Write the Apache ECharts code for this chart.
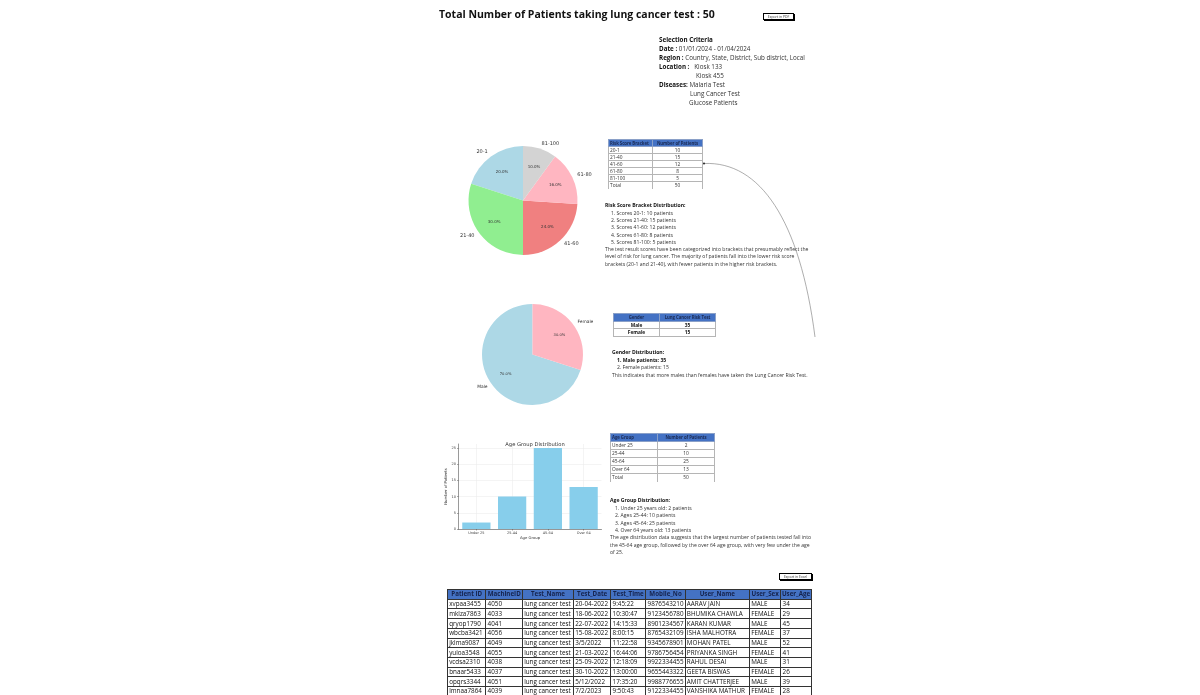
<!DOCTYPE html>
<html><head><meta charset="utf-8">
<script src="https://cdn.jsdelivr.net/npm/echarts@6/dist/echarts.min.js"></script>
<style>
html,body{margin:0;padding:0;background:#fff;width:1200px;height:695px;overflow:hidden;font-family:"Open Sans",sans-serif;color:#333;}
#chart{position:absolute;left:0;top:0;width:1200px;height:695px;}
.abs{position:absolute;white-space:nowrap;}
.title{left:439px;top:5px;font-size:10.5px;line-height:18px;font-weight:700;color:#111;}
.btn{position:absolute;border:1px solid #000;box-shadow:1px 1px 0 #000;font-size:3.4px;line-height:5px;text-align:center;color:#333;background:#fff;box-sizing:border-box;}
.crit{left:659px;top:34.5px;font-size:6.25px;line-height:9px;}
.crit b, .txt b{color:#111;}
.txt{font-size:5.1px;}
.txt .li{padding-left:6px;}
table{border-collapse:collapse;position:absolute;table-layout:fixed;}
table.small td{border:1px solid #b5b5b5;font-size:4.8px;padding:0 1px;overflow:hidden;white-space:nowrap;color:#333;line-height:5px;}
table.small tr.hd td{background:#4472C4;color:#1b2b55;font-weight:700;border-color:#8aa0c8;font-size:4.3px;letter-spacing:-0.05px;}
table.big td{border:1px solid #333;font-size:6.3px;padding:0 1.2px;overflow:hidden;white-space:nowrap;color:#111;line-height:8px;}
table.big tr.hd td{background:#4472C4;color:#15234d;font-weight:700;text-align:center;font-size:6.2px;padding:0;}
</style></head>
<body>
<div id="chart"></div>
<div id="overlay"></div>
<script>
// ---------- data ----------
const riskBrackets = ['20-1', '21-40', '41-60', '61-80', '81-100'];
const riskCounts = [10, 15, 12, 8, 5];
const riskColors = ['#ADD8E6', '#90EE90', '#F08080', '#FFB6C1', '#D3D3D3'];
const genders = ['Male', 'Female'];
const genderCounts = [35, 15];
const genderColors = ['#ADD8E6', '#FFB6C1'];
const ageGroups = ['Under 25', '25-44', '45-64', 'Over 64'];
const ageCounts = [2, 10, 25, 13];
const ageTicks = [0, 5, 10, 15, 20, 25];
const ageListLabels = ['Under 25 years old', 'Ages 25-44', 'Ages 45-64', 'Over 64 years old'];
const patientColumns = ['Patient ID', 'MachineID', 'Test_Name', 'Test_Date', 'Test_Time', 'Mobile_No', 'User_Name', 'User_Sex', 'User_Age'];
const patientRows = [
  ['xvpaa3455', '4050', 'lung cancer test', '20-04-2022', '9:45:22', '9876543210', 'AARAV JAIN', 'MALE', '34'],
  ['mklza7863', '4033', 'lung cancer test', '18-06-2022', '10:30:47', '9123456780', 'BHUMIKA CHAWLA', 'FEMALE', '29'],
  ['qryop1790', '4041', 'lung cancer test', '22-07-2022', '14:15:33', '8901234567', 'KARAN KUMAR', 'MALE', '45'],
  ['wbcba3421', '4056', 'lung cancer test', '15-08-2022', '8:00:15', '8765432109', 'ISHA MALHOTRA', 'FEMALE', '37'],
  ['jklma9087', '4049', 'lung cancer test', '3/5/2022', '11:22:58', '9345678901', 'MOHAN PATEL', 'MALE', '52'],
  ['yuioa3548', '4055', 'lung cancer test', '21-03-2022', '16:44:06', '9786756454', 'PRIYANKA SINGH', 'FEMALE', '41'],
  ['vcdsa2310', '4038', 'lung cancer test', '25-09-2022', '12:18:09', '9922334455', 'RAHUL DESAI', 'MALE', '31'],
  ['bnaar5433', '4037', 'lung cancer test', '30-10-2022', '13:00:00', '9655443322', 'GEETA BISWAS', 'FEMALE', '26'],
  ['opqrs3344', '4051', 'lung cancer test', '5/12/2022', '17:35:20', '9988776655', 'AMIT CHATTERJEE', 'MALE', '39'],
  ['lmnaa7864', '4039', 'lung cancer test', '7/2/2023', '9:50:43', '9122334455', 'VANSHIKA MATHUR', 'FEMALE', '28']
];
const totalPatients = riskCounts.reduce((a, b) => a + b, 0);

// ---------- HTML parts ----------
const ov = document.getElementById('overlay');
function add(html) { ov.insertAdjacentHTML('beforeend', html); }

add(`<div class="abs title">Total Number of Patients taking lung cancer test : ${totalPatients}</div>`);
add(`<div class="btn" style="left:763px;top:13px;width:31px;height:7px;">Export in PDF</div>`);
add(`<div class="abs crit">
<b>Selection Criteria</b><br>
<b>Date :</b> 01/01/2024 - 01/04/2024<br>
<b>Region :</b> Country, State, District, Sub district, Local<br>
<b>Location :</b>&nbsp;&nbsp; Kiosk 133<br>
<span style="padding-left:37px">Kiosk 455</span><br>
<b>Diseases:</b> Malaria Test<br>
<span style="padding-left:31px">Lung Cancer Test</span><br>
<span style="padding-left:30px">Glucose Patients</span>
</div>`);

function smallTable(left, top, widths, rowH, header, rows, opts) {
  let h = `<table class="small" style="left:${left}px;top:${top}px;width:${widths.reduce((a,b)=>a+b,0)}px">`;
  h += `<colgroup>${widths.map(w => `<col style="width:${w}px">`).join('')}</colgroup>`;
  h += `<tr class="hd" style="height:${rowH}px">${header.map((c, i) => `<td style="text-align:${opts.hAlign[i]}">${c}</td>`).join('')}</tr>`;
  rows.forEach((r, ri) => {
    const last = ri === rows.length - 1 && opts.openLast;
    h += `<tr style="height:${rowH}px">${r.map((c, i) => `<td style="text-align:${opts.bAlign[i]};${opts.bold ? 'font-weight:700;color:#111;' : ''}${last ? 'border-bottom:none;' : ''}">${c}</td>`).join('')}</tr>`;
  });
  h += '</table>';
  add(h);
}

smallTable(608, 139, [44, 50], 7, ['Risk Score Bracket', 'Number of Patients'],
  riskBrackets.map((b, i) => [b, riskCounts[i]]).concat([['Total', totalPatients]]),
  { hAlign: ['left', 'center'], bAlign: ['left', 'center'], openLast: true });

smallTable(613, 313, [46, 56], 7.7, ['Gender', 'Lung Cancer Risk Test'],
  genders.map((g, i) => [g, genderCounts[i]]),
  { hAlign: ['center', 'center'], bAlign: ['center', 'center'], bold: true });

smallTable(610, 433, [47, 57], 8, ['Age Group', 'Number of Patients'],
  ageGroups.map((g, i) => [g, ageCounts[i]]).concat([['Total', ageCounts.reduce((a,b)=>a+b,0)]]),
  { hAlign: ['left', 'center'], bAlign: ['left', 'center'], openLast: true });

add(`<div class="abs txt" style="left:605px;top:202.4px;line-height:7.3px;">
<b>Risk Score Bracket Distribution:</b><br>
${riskBrackets.map((b, i) => `<div class="li">${i + 1}. Scores ${b}: ${riskCounts[i]} patients</div>`).join('')}
The test result scores have been categorized into brackets that presumably reflect the<br>
level of risk for lung cancer. The majority of patients fall into the lower risk score<br>
brackets (20-1 and 21-40), with fewer patients in the higher risk brackets.
</div>`);

add(`<div class="abs txt" style="left:612px;top:349.2px;line-height:7.6px;">
<b>Gender Distribution:</b><br>
<div class="li" style="padding-left:5px"><b>1. ${genders[0]} patients: ${genderCounts[0]}</b></div>
<div class="li" style="padding-left:5px">2. ${genders[1]} patients: ${genderCounts[1]}</div>
This indicates that more males than females have taken the Lung Cancer Risk Test.
</div>`);

add(`<div class="abs txt" style="left:610px;top:497.3px;line-height:7.4px;">
<b>Age Group Distribution:</b><br>
${ageListLabels.map((l, i) => `<div class="li" style="padding-left:5px">${i + 1}. ${l}: ${ageCounts[i]} patients</div>`).join('')}
The age distribution data suggests that the largest number of patients tested fall into<br>
the 45-64 age group, followed by the over 64 age group, with very few under the age<br>
of 25.
</div>`);

add(`<div class="btn" style="left:779px;top:573px;width:33px;height:7px;">Export in Excel</div>`);

(function bigTable() {
  const widths = [38.4, 36.6, 51, 37.4, 35, 39.3, 64.3, 31.4, 30.3];
  let h = `<table class="big" style="left:447px;top:588.5px;width:${widths.reduce((a,b)=>a+b,0)}px">`;
  h += `<colgroup>${widths.map(w => `<col style="width:${w}px">`).join('')}</colgroup>`;
  h += `<tr class="hd" style="height:10.3px">${patientColumns.map(c => `<td>${c}</td>`).join('')}</tr>`;
  patientRows.forEach(r => {
    h += `<tr style="height:9.7px">${r.map(c => `<td>${c}</td>`).join('')}</tr>`;
  });
  h += '</table>';
  add(h);
})();

// ---------- ECharts ----------
function pctLabel(arr) {
  const t = arr.reduce((a, b) => a + b, 0);
  return p => (p.value / t * 100).toFixed(1) + '%';
}
const chart = echarts.init(document.getElementById('chart'), null, { renderer: 'canvas' });
const FONT = 'DejaVu Sans';
function pieSet(center, r, names, values, colors, nameSize, pctSize) {
  const data = names.map((n, i) => ({ name: n, value: values[i], itemStyle: { color: colors[i] } }));
  return [
    {
      type: 'pie', center: center, radius: r, startAngle: 90, clockwise: false,
      avoidLabelOverlap: false, silent: true, emphasis: { disabled: true },
      itemStyle: { borderWidth: 0 },
      label: { show: true, position: 'outside', fontSize: nameSize, color: '#333', fontFamily: FONT, distanceToLabelLine: 0 },
      labelLine: { show: false, length: r * 0.1, length2: 0 },
      data: data
    },
    {
      type: 'pie', center: center, radius: r * 1.2, startAngle: 90, clockwise: false,
      avoidLabelOverlap: false, silent: true, emphasis: { disabled: true }, z: 5,
      itemStyle: { color: 'transparent', borderWidth: 0 },
      label: { show: true, position: 'inside', fontSize: pctSize, color: '#333', fontFamily: FONT, formatter: pctLabel(values) },
      labelLine: { show: false },
      data: names.map((n, i) => ({ name: n, value: values[i], itemStyle: { color: 'transparent' } }))
    }
  ];
}

const axisCol = '#555';
const option = {
  animation: false,
  backgroundColor: 'transparent',
  title: {
    text: 'Age Group Distribution', left: 530, top: 437, textAlign: 'center',
    textStyle: { fontSize: 5.2, fontWeight: 'normal', color: '#333', fontFamily: FONT }
  },
  grid: { left: 458.5, top: 444, width: 143, height: 85, containLabel: false, outerBoundsMode: 'none' },
  xAxis: {
    type: 'category', data: ageGroups, boundaryGap: true,
    name: 'Age Group', nameLocation: 'middle', nameGap: 5,
    nameTextStyle: { fontSize: 3.8, color: '#333', fontFamily: FONT },
    axisLine: { show: true, lineStyle: { color: axisCol, width: 0.6 } },
    axisTick: { show: true, alignWithLabel: true, length: 1.5, lineStyle: { color: axisCol, width: 0.5 } },
    axisLabel: { fontSize: 3.5, margin: 2, color: '#444', fontFamily: FONT },
    splitLine: { show: true, alignWithLabel: true, lineStyle: { color: '#e8e8e8', width: 0.5 } }
  },
  yAxis: {
    type: 'value', min: 0, max: 26.25, interval: 5,
    name: 'Number of Patients', nameLocation: 'middle', nameGap: 8.5, nameRotate: 90,
    nameTextStyle: { fontSize: 3.8, color: '#333', fontFamily: FONT },
    axisLine: { show: true, lineStyle: { color: axisCol, width: 0.6 } },
    axisTick: { show: true, length: 1.5, customValues: ageTicks, lineStyle: { color: axisCol, width: 0.5 } },
    axisLabel: { fontSize: 3.5, margin: 2.5, color: '#444', fontFamily: FONT, customValues: ageTicks,
      formatter: v => (ageTicks.indexOf(v) >= 0 ? String(v) : '') },
    splitLine: { show: true, lineStyle: { color: ['#e8e8e8', '#e8e8e8', '#e8e8e8', '#e8e8e8', '#e8e8e8', '#e8e8e8', 'transparent'], width: 0.5 } }
  },
  series: [
    ...pieSet([523, 200.5], 54.5, riskBrackets, riskCounts, riskColors, 5, 4),
    ...pieSet([532.5, 354.5], 50.5, genders, genderCounts, genderColors, 4.4, 3.7),
    {
      type: 'bar', data: ageCounts, barWidth: '79%', silent: true,
      itemStyle: { color: '#87CEEB' }, emphasis: { disabled: true }
    }
  ],
  graphic: [
    {
      type: 'bezierCurve', silent: true,
      shape: { x1: 704, y1: 163.5, cpx1: 760, cpy1: 161, cpx2: 800, cpy2: 220, x2: 815, y2: 337 },
      style: { stroke: '#777', lineWidth: 0.6, fill: null }
    },
    { type: 'circle', silent: true, shape: { cx: 704, cy: 163.5, r: 1.1 }, style: { fill: '#333' } }
  ]
};
chart.setOption(option);
</script>
</body></html>
